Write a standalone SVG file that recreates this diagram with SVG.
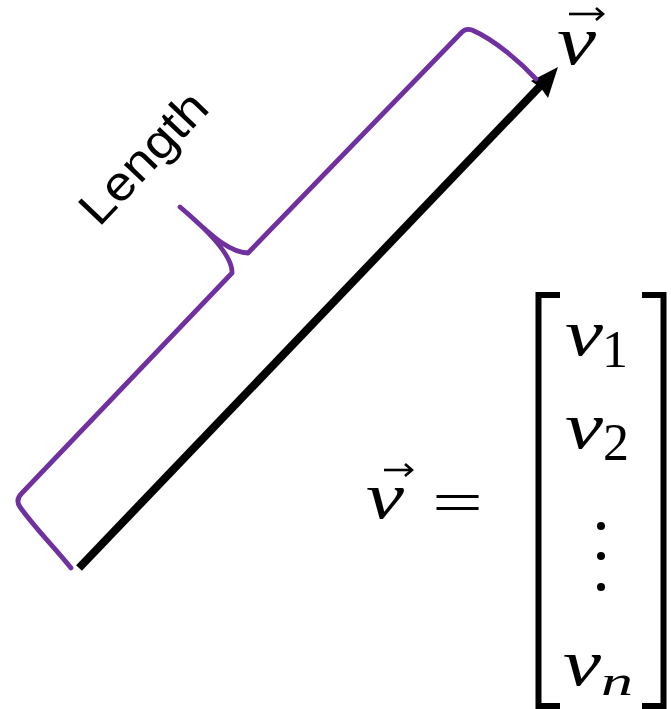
<svg xmlns="http://www.w3.org/2000/svg" width="671" height="709" viewBox="0 0 671 709">
<style>
.brace{fill:none;stroke:#7030A0;stroke-width:4.8;stroke-linecap:round;stroke-linejoin:round}
.shaft{fill:none;stroke:#000;stroke-width:8}
.acc{fill:none;stroke:#000;stroke-width:2.6}
.bk{fill:none;stroke:#000;stroke-width:6;stroke-linejoin:miter}
.mi{font-family:"Liberation Serif","Times New Roman",serif;font-style:italic;fill:#000}
.mr{font-family:"Liberation Serif","Times New Roman",serif;fill:#000}
.lbl{font-family:"Liberation Sans",Arial,sans-serif;fill:#000}
</style>
<rect width="671" height="709" fill="#fff"/>
<g id="connectors">
  <g id="vector-arrow">
    <line class="shaft" x1="79" y1="568" x2="545" y2="81"/>
    <polygon points="558,67 531,81 541,88 548,98" fill="#000"/>
  </g>
</g>
<g id="length-brace">
  <path class="brace" d="M71,568 C55,548 35,528 20,507 Q15,500 22,493 L232,273 C233,255 205,228 180,207 C205,228 225,252 248,253 L462,32 Q466,28 472,30 C495,40 520,62 536,79"/>
</g>
<g id="length-label">
  <text class="lbl" x="0" y="0" font-size="48" textLength="163" lengthAdjust="spacingAndGlyphs" transform="translate(99,228) rotate(-46.5)">Length</text>
</g>
<g id="v-label">
  <text class="mi" x="557" y="64" font-size="70" textLength="39" lengthAdjust="spacingAndGlyphs">v</text>
  <line class="acc" x1="569" y1="14" x2="601" y2="14"/>
  <path class="acc" d="M596,8 L603,14 L596,20"/>
</g>
<g id="equation">
  <text class="mi" x="366" y="518" font-size="66" textLength="38" lengthAdjust="spacingAndGlyphs">v</text>
  <line class="acc" x1="384" y1="470" x2="410" y2="470"/>
  <path class="acc" d="M405,464 L412,470 L405,476"/>
  <text class="mr" x="432" y="522" font-size="60" textLength="51" lengthAdjust="spacingAndGlyphs">=</text>
</g>
<g id="matrix">
  <path class="bk" d="M560,295 L538.5,295 L538.5,706 L560,706"/>
  <path class="bk" d="M642,295 L663.5,295 L663.5,706 L642,706"/>
  <text class="mi" x="565" y="355" font-size="66" textLength="38" lengthAdjust="spacingAndGlyphs">v</text>
  <text class="mr" x="602" y="367" font-size="52">1</text>
  <text class="mi" x="565" y="448" font-size="66" textLength="38" lengthAdjust="spacingAndGlyphs">v</text>
  <text class="mr" x="603" y="460" font-size="52">2</text>
  <circle cx="601" cy="526" r="4"/>
  <circle cx="601" cy="556" r="4"/>
  <circle cx="601" cy="587" r="4"/>
  <text class="mi" x="563" y="685" font-size="66" textLength="38" lengthAdjust="spacingAndGlyphs">v</text>
  <text class="mi" x="601" y="695" font-size="42" textLength="32" lengthAdjust="spacingAndGlyphs">n</text>
</g>
</svg>
